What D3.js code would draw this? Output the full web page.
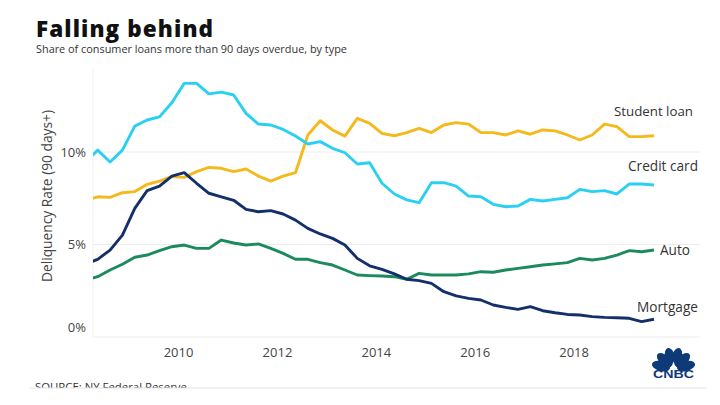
<!DOCTYPE html>
<html><head><meta charset="utf-8">
<script src="https://cdn.jsdelivr.net/npm/d3@7"></script>
<style>body{margin:0;background:#fff}svg{display:block}</style>
</head><body><svg id="c" width="720" height="405"></svg>
<script>
// ---- data ----
const quarters = []; // 2008Q1 .. 2019Q3
for (let yr = 2008; yr <= 2019; yr++) for (let q = 1; q <= 4; q++) { if (yr === 2019 && q > 3) break; quarters.push({year: yr, q: q}); }
const seriesNames = ["Student loan", "Credit card", "Auto", "Mortgage"];
const studentLoan = [7.38,7.58,7.55,7.8,7.86,8.25,8.43,8.67,8.63,8.94,9.17,9.12,8.94,9.08,8.7,8.43,8.7,8.88,10.92,11.69,11.19,10.86,11.82,11.55,11.01,10.88,11.05,11.28,11.05,11.46,11.59,11.51,11.05,11.05,10.92,11.14,10.96,11.19,11.14,10.92,10.65,10.92,11.51,11.37,10.83,10.83,10.88];
const creditCard = [9.46,10.1,9.46,10.1,11.4,11.73,11.9,12.66,13.71,13.71,13.14,13.24,13.08,12.09,11.51,11.46,11.22,10.86,10.43,10.56,10.2,9.96,9.35,9.42,8.31,7.73,7.41,7.26,8.34,8.34,8.16,7.62,7.58,7.17,7.04,7.08,7.44,7.35,7.44,7.53,7.98,7.86,7.91,7.73,8.27,8.27,8.22];
const auto = [3.08,3.26,3.62,3.93,4.31,4.43,4.67,4.88,4.97,4.79,4.79,5.24,5.08,4.97,5.03,4.79,4.52,4.2,4.2,4.02,3.89,3.62,3.35,3.32,3.3,3.26,3.12,3.44,3.35,3.35,3.35,3.41,3.53,3.5,3.62,3.71,3.8,3.89,3.95,4.02,4.25,4.16,4.25,4.43,4.67,4.61,4.7];
const mortgage = [3.94,4.2,4.7,5.51,6.95,7.91,8.16,8.7,8.88,8.31,7.77,7.58,7.39,6.9,6.77,6.83,6.65,6.32,5.87,5.57,5.33,4.97,4.25,3.85,3.66,3.41,3.12,3.05,2.9,2.45,2.22,2.09,2.0,1.73,1.6,1.49,1.64,1.42,1.31,1.22,1.19,1.1,1.06,1.04,1.01,0.83,0.96];
const seriesValues = [studentLoan, creditCard, auto, mortgage];
const seriesColors = ["#f6b91c", "#2ad0f2", "#1b8a5c", "#14306b"];
const xTickYears = [2010, 2012, 2014, 2016, 2018];
const yTickValues = [0, 5, 10];
const yTickLabels = ["0%", "5%", "10%"];

// ---- layout ----
const svg = d3.select("#c");
const pL = 93, pR = 700, pT = 68, pB = 337;
const x = d3.scaleLinear().domain([2008.28, 2020.556]).range([pL, pR]);
const y = d3.scaleLinear().domain([0, 10]).range([pB, 152]);
const tOf = d => d.year + (d.q - 1) / 4 + 0.125;

function fit(sel, w) {
  const n = sel.node(); const fs = parseFloat(sel.attr("font-size"));
  const cur = n.getComputedTextLength(); if (cur > 0) sel.attr("font-size", (fs * w / cur).toFixed(2));
}
function spread(sel, w) {
  const n = sel.node(); const cur = n.getComputedTextLength(); const len = sel.text().length;
  if (cur > 0) sel.attr("letter-spacing", ((w - cur) / (len - 1)).toFixed(2));
}

// title
const title = svg.append("text").attr("x", 36).attr("y", 36.5).attr("font-family", "Open Sans").attr("font-weight", 800)
  .attr("font-size", 22.5).attr("fill", "#111").text("Falling behind");
spread(title, 177);
const sub = svg.append("text").attr("x", 36).attr("y", 53).attr("font-family", "Open Sans").attr("font-size", 11)
  .attr("fill", "#333").text("Share of consumer loans more than 90 days overdue, by type");
fit(sub, 311);

// grid
const g = svg.append("g");
g.selectAll("line.grid").data(yTickValues).join("line").attr("class", "grid")
  .attr("x1", pL).attr("x2", pR).attr("y1", d => y(d)).attr("y2", d => y(d))
  .attr("stroke", "#ececec").attr("stroke-width", 1);
g.append("line").attr("x1", pL).attr("x2", pL).attr("y1", pT).attr("y2", pB).attr("stroke", "#f0f0f0");

// y labels
g.selectAll("text.yl").data(yTickValues).join("text").attr("class", "yl")
  .attr("x", 86).attr("y", d => y(d) + (d === 0 ? -10 : 0)).attr("dy", "0.36em")
  .attr("text-anchor", "end").attr("font-family", "Open Sans").attr("font-size", 13).attr("fill", "#444")
  .text((d, i) => yTickLabels[i]);

// x labels
const xAxis = d3.axisBottom(x).tickValues(xTickYears).tickFormat(d3.format("d")).tickSize(0).tickPadding(0);
const xa = svg.append("g").attr("transform", `translate(0,${pB + 20})`).call(xAxis);
xa.select(".domain").remove();
xa.selectAll("text").attr("font-family", "Open Sans").attr("font-size", 13).attr("fill", "#444").attr("dy", "0");

// y title
const yt = svg.append("text").attr("transform", "translate(52,196) rotate(-90)").attr("text-anchor", "middle")
  .attr("font-family", "Open Sans").attr("font-size", 12.5).attr("fill", "#444").text("Deliquency Rate (90 days+)");
fit(yt, 172);

// lines
svg.append("clipPath").attr("id", "clip").append("rect").attr("x", pL).attr("y", 0).attr("width", pR - pL).attr("height", 405);
const line = d3.line().x((d, i) => x(tOf(quarters[i]))).y(d => y(d));
svg.append("g").attr("clip-path", "url(#clip)").selectAll("path").data(seriesValues).join("path")
  .attr("d", d => line(d)).attr("fill", "none").attr("stroke", (d, i) => seriesColors[i])
  .attr("stroke-width", 2.9).attr("stroke-linejoin", "round");

// series labels
const labelPos = [{x: 693, y: 111, a: "end", w: 79}, {x: 698, y: 166, a: "end", w: 70}, {x: 660, y: 250, a: "start", w: 30}, {x: 698, y: 307, a: "end", w: 61}];
seriesNames.forEach((n, i) => {
  const t = svg.append("text").attr("x", labelPos[i].x).attr("y", labelPos[i].y).attr("dy", "0.36em")
    .attr("text-anchor", labelPos[i].a).attr("font-family", "Open Sans").attr("font-size", 13).attr("fill", "#333").text(n);
  fit(t, labelPos[i].w);
});

// source
const src = svg.append("text").attr("x", 35).attr("y", 391).attr("font-family", "Open Sans").attr("font-size", 11)
  .attr("fill", "#333").text("SOURCE: NY Federal Reserve");
fit(src, 152);
svg.append("rect").attr("x", 0).attr("y", 388).attr("width", 720).attr("height", 17).attr("fill", "#fff");
svg.append("line").attr("x1", 30).attr("x2", 706).attr("y1", 388).attr("y2", 388).attr("stroke", "#e2e2e2");

// CNBC logo
const logo = svg.append("g").attr("transform", "translate(673.5,369.5)");
[-75, -45, -15, 15, 45, 75].forEach(a => {
  logo.append("ellipse").attr("cx", 0).attr("cy", -13).attr("rx", 5).attr("ry", 9.2)
    .attr("transform", `rotate(${a})`).attr("fill", "#0f3a78");
});
logo.append("path").attr("d", "M-3,0 L0,-8 L3,0 Z").attr("fill", "#fff");
logo.append("text").attr("x", 0).attr("y", 8.5).attr("text-anchor", "middle").attr("font-family", "Liberation Sans")
  .attr("font-weight", 700).attr("font-size", 10).attr("textLength", 41).attr("lengthAdjust", "spacingAndGlyphs")
  .attr("fill", "#0f3a78").text("CNBC");
</script></body></html>
